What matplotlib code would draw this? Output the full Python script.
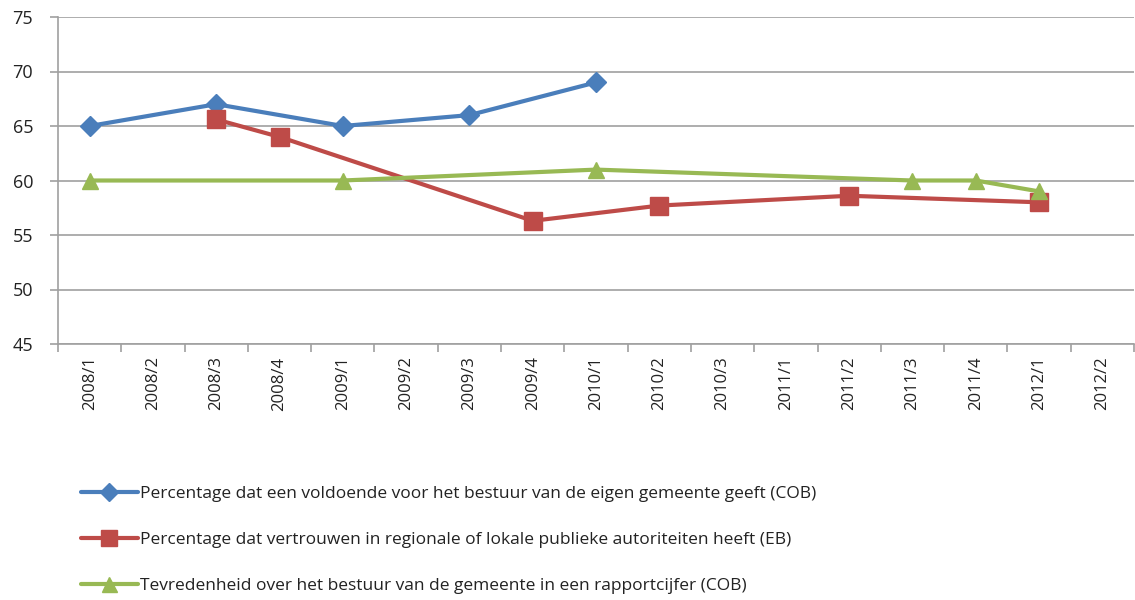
import numpy as np
import matplotlib.pyplot as plt

plt.rcParams['font.family'] = ['Open Sans', 'DejaVu Sans']

quarters = ["2008/1", "2008/2", "2008/3", "2008/4", "2009/1", "2009/2", "2009/3", "2009/4",
            "2010/1", "2010/2", "2010/3", "2011/1", "2011/2", "2011/3", "2011/4", "2012/1", "2012/2"]

nan = np.nan
voldoende = [65, nan, 67, nan, 65, nan, 66, nan, 69, nan, nan, nan, nan, nan, nan, nan, nan]
vertrouwen = [nan, nan, 65.6, 64, nan, nan, nan, 56.3, nan, 57.7, nan, nan, 58.6, nan, nan, 58, nan]
rapportcijfer = [60, nan, nan, nan, 60, nan, nan, nan, 61, nan, nan, nan, nan, 60, 60, 59, nan]

labels = [
    "Percentage dat een voldoende voor het bestuur van de eigen gemeente geeft (COB)",
    "Percentage dat vertrouwen in regionale of lokale publieke autoriteiten heeft (EB)",
    "Tevredenheid over het bestuur van de gemeente in een rapportcijfer (COB)",
]
colors = ['#4A7EBB', '#BE4B48', '#98B954']
markers = ['D', 's', '^']
msizes = [10, 13, 12]

fig = plt.figure(figsize=(11.35, 6), dpi=100)
ax = fig.add_axes([58 / 1135, 1 - 344 / 600, 1076 / 1135, 327 / 600])

x = np.arange(len(quarters))
for vals, lab, c, m, ms in zip([voldoende, vertrouwen, rapportcijfer], labels, colors, markers, msizes):
    s = np.array(vals, dtype=float)
    ok = ~np.isnan(s)
    ax.plot(x[ok], s[ok], color=c, lw=3, marker=m, markersize=ms, label=lab,
            solid_capstyle='round', zorder=3)

ax.set_ylim(45, 75)
ax.set_yticks(range(45, 76, 5))
ax.set_xlim(-0.5, len(quarters) - 0.5)
ax.set_xticks(x)
ax.set_xticklabels(quarters, rotation=90)
ax.set_xticks(np.arange(-0.5, len(quarters), 1), minor=True)
ax.tick_params(axis='x', which='major', length=0, pad=9, labelsize=12, colors='#222222')
ax.tick_params(axis='x', which='minor', length=6, color='#a0a0a0', width=1.2)
ax.tick_params(axis='y', length=6, color='#a0a0a0', width=1.2, labelsize=13,
               colors='#222222', pad=12)
ax.grid(axis='y', color='#a0a0a0', lw=1.2, zorder=0)
for side in ['top', 'right']:
    ax.spines[side].set_visible(False)
ax.spines['left'].set_color('#a0a0a0')
ax.spines['bottom'].set_color('#a0a0a0')
ax.spines['left'].set_linewidth(1.2)
ax.spines['bottom'].set_linewidth(1.2)

# legend stacked below the plot, as in the source
leg = fig.legend(loc='upper left', bbox_to_anchor=(65 / 1135, 1 - 470 / 600), frameon=False,
                 fontsize=12.5, handlelength=3.3, handletextpad=0.1, labelspacing=1.72,
                 markerscale=0.9)
for t in leg.get_texts():
    t.set_color('#222222')

fig.savefig('out.png', dpi=100)
